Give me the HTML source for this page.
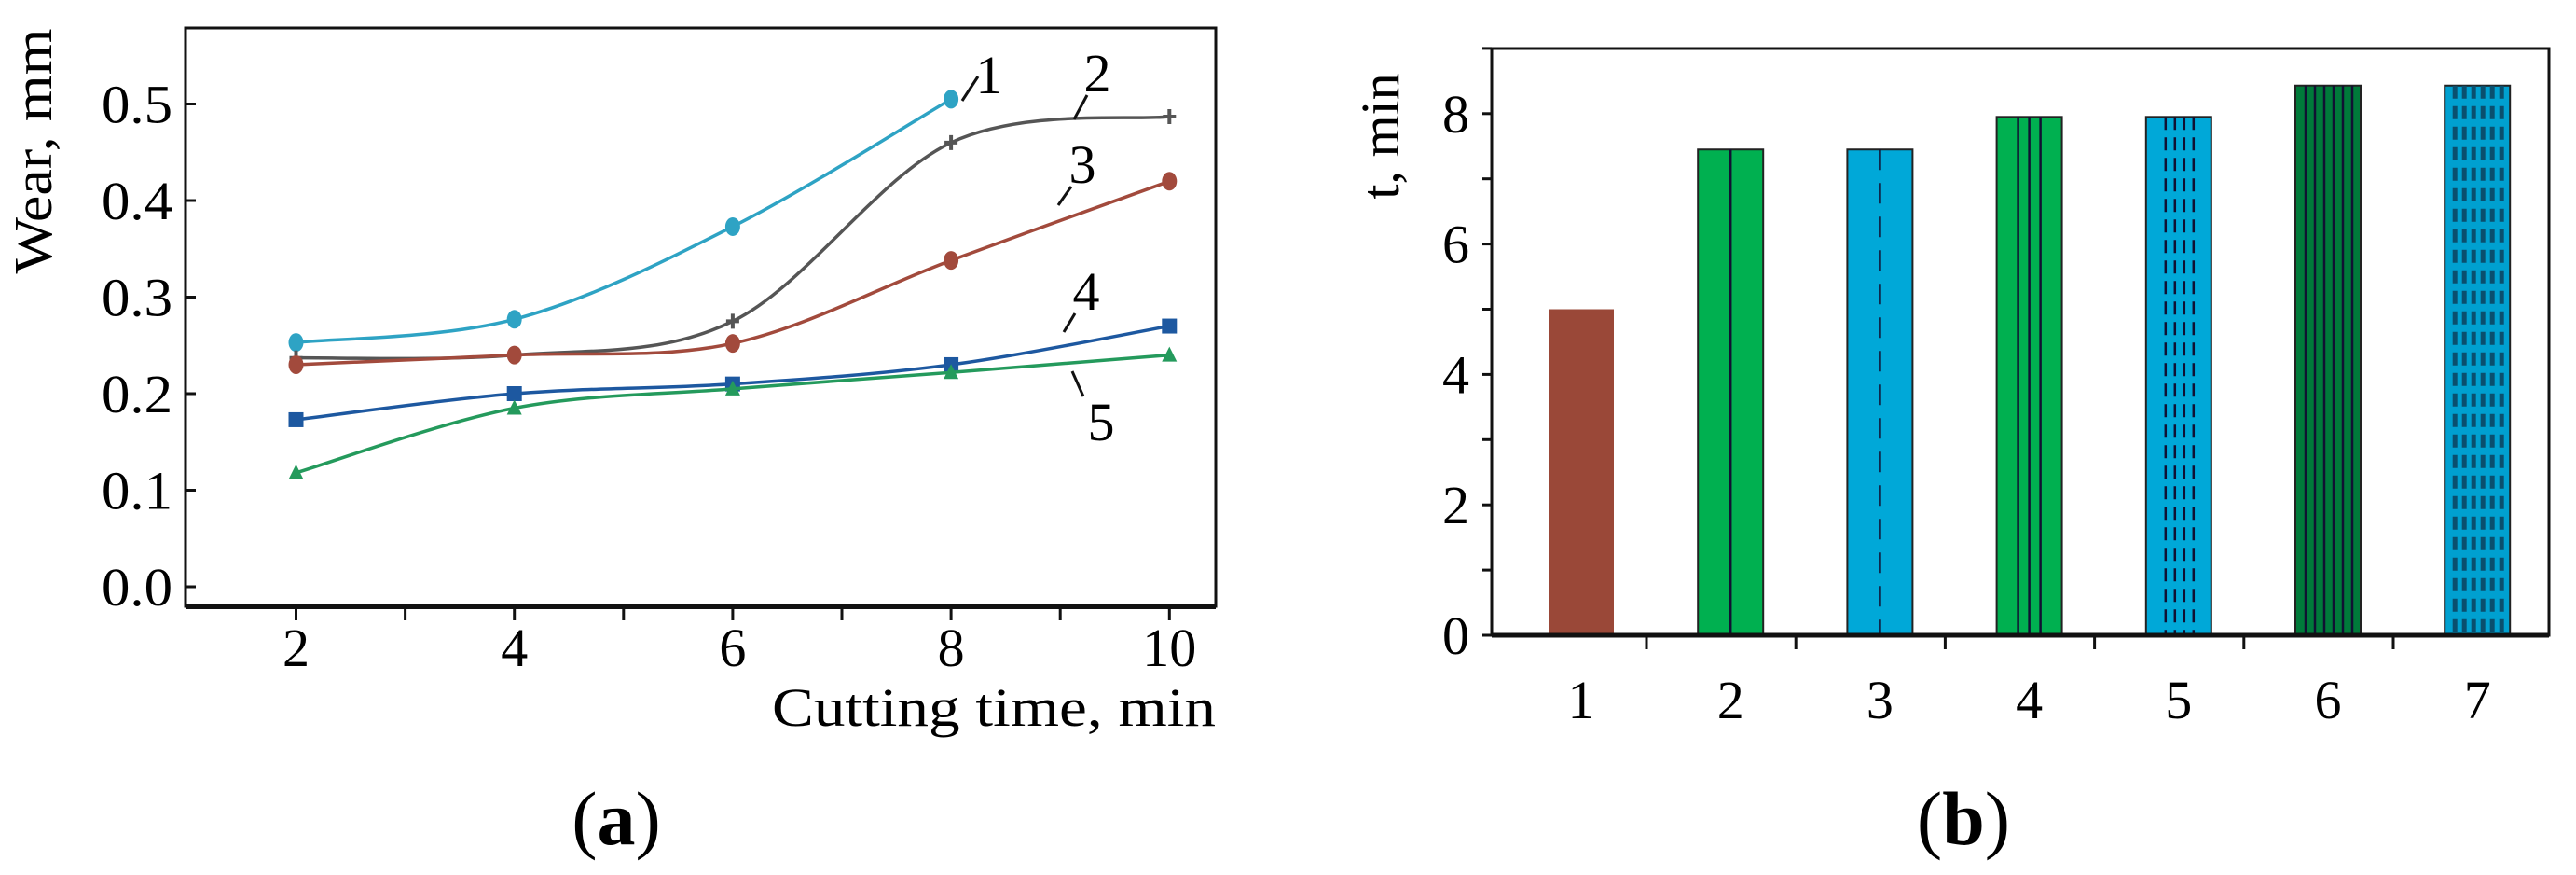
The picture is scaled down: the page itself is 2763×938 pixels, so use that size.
<!DOCTYPE html>
<html><head><meta charset="utf-8"><style>
html,body{margin:0;padding:0;background:#fff;}
svg{display:block;font-family:"Liberation Serif",serif;}
</style></head><body>
<svg id="fig" width="2763" height="938" viewBox="0 0 2763 938" xmlns="http://www.w3.org/2000/svg">
<g id="chartA"></g>
<g id="chartB"></g>
<text x="661" y="905" font-size="82" text-anchor="middle">(<tspan font-weight="bold">a</tspan>)</text>
<text x="2106" y="905" font-size="82" text-anchor="middle">(<tspan font-weight="bold">b</tspan>)</text>
</svg>
<script>
const NS='http://www.w3.org/2000/svg';
// ---- Chart A data
const timesA=[2,4,6,8,10];
const wear1=[0.253,0.277,0.373,0.505];
const wear2=[0.237,0.240,0.275,0.460,0.487];
const wear3=[0.230,0.240,0.252,0.338,0.420];
const wear4=[0.173,0.200,0.210,0.230,0.270];
const wear5=[0.118,0.185,0.205,0.222,0.240];
const yTicksA=['0.0','0.1','0.2','0.3','0.4','0.5'];
const xTicksA=['2','4','6','8','10'];
// ---- Chart B data
const catsB=['1','2','3','4','5','6','7'];
const lifeB=[5,7.45,7.45,7.95,7.95,8.43,8.43];
const yTicksB=['0','2','4','6','8'];

function mk(tag,attrs,parent){const e=document.createElementNS(NS,tag);for(const k in attrs)e.setAttribute(k,attrs[k]);parent.appendChild(e);return e;}

// ===== Chart A
const A=document.getElementById('chartA');
const ax=t=>317.5+(t-2)*117.1;
const ay=v=>629-v*1035;
let r=mk('rect',{x:199,y:30,width:1105,height:620,fill:'none',stroke:'#111','stroke-width':3},A);


let bl=mk('line',{x1:199,y1:650,x2:1304,y2:650,stroke:'#111','stroke-width':6},A);


yTicksA.forEach(s=>{const v=parseFloat(s);const y=ay(v);
 let l=mk('line',{x1:199,y1:y,x2:210,y2:y,stroke:'#111','stroke-width':3},A);
 
 
 let t=mk('text',{x:185,y:y+20,'font-size':58,'text-anchor':'end',textLength:76,lengthAdjust:'spacingAndGlyphs'},A);t.textContent=s;
 
 
});
for(let t=2;t<=10;t++){const x=ax(t);
 let l=mk('line',{x1:x,y1:650,x2:x,y2:665,stroke:'#111','stroke-width':3},A);
 
 }
xTicksA.forEach(s=>{const x=ax(parseFloat(s));
 let t=mk('text',{x:x,y:714,'font-size':58,'text-anchor':'middle'},A);t.textContent=s;
 
 });
let xt=mk('text',{x:1304,y:778,'font-size':58,'text-anchor':'end',textLength:476,lengthAdjust:'spacingAndGlyphs'},A);xt.textContent='Cutting time, min';


let yt=mk('text',{x:0,y:0,'font-size':58,'text-anchor':'middle',textLength:263,lengthAdjust:'spacingAndGlyphs',transform:'translate(55,162) rotate(-90)'},A);yt.textContent='Wear, mm';



function smooth(pts){let d='M'+pts[0][0]+','+pts[0][1];
 for(let i=0;i<pts.length-1;i++){const p0=pts[Math.max(0,i-1)],p1=pts[i],p2=pts[i+1],p3=pts[Math.min(pts.length-1,i+2)];
  const c1=[p1[0]+(p2[0]-p0[0])/6,p1[1]+(p2[1]-p0[1])/6],c2=[p2[0]-(p3[0]-p1[0])/6,p2[1]-(p3[1]-p1[1])/6];
  d+=' C'+c1+' '+c2+' '+p2;}return d;}
const seriesA=[[wear1,'#2ea3c4','circle','series-1'],[wear2,'#555','star','series-2'],[wear3,'#a24a3c','circle','series-3'],[wear4,'#1d58a0','square','series-4'],[wear5,'#249a5c','tri','series-5']];
seriesA.forEach(([vals,col,mkr,name])=>{
 const pts=vals.map((v,i)=>[ax(timesA[i]),ay(v)]);
 let p=mk('path',{d:smooth(pts),fill:'none',stroke:col,'stroke-width':3.5},A);
 
 
 pts.forEach(([x,y])=>{let m;
  if(mkr==='square')m=mk('rect',{x:x-8,y:y-8,width:16,height:16,fill:col},A);
  else if(mkr==='tri')m=mk('path',{d:`M${x},${y-9} L${x+8},${y+7} L${x-8},${y+7}Z`,fill:col},A);
  else if(mkr==='star')m=mk('path',{d:`M${x-7},${y} L${x+7},${y} M${x},${y-8} L${x},${y+8}`,stroke:col,'stroke-width':4},A);
  else m=mk('ellipse',{cx:x,cy:y,rx:8,ry:10,fill:col},A);
  
  });
});
const callouts=[['1',1061,100,1032,108,1049,82],['2',1177,98,1152,128,1166,102],['3',1161,196,1135,220,1149,200],['4',1165,332,1141,356,1153,336],['5',1181,472,1150,398,1162,425]];
callouts.forEach(([s,tx,ty,x1,y1,x2,y2])=>{
 let l=mk('line',{x1:x1,y1:y1,x2:x2,y2:y2,stroke:'#111','stroke-width':3},A);
 
 
 let t=mk('text',{x:tx,y:ty,'font-size':58,'text-anchor':'middle'},A);t.textContent=s;
 
 });

// ===== Chart B
const B=document.getElementById('chartB');
const bx=i=>1696+i*160.2;
const by=v=>681-v*69.9;
const defs=mk('defs',{},B);
function pat(id,w,h,draw){const p=mk('pattern',{id:id,patternUnits:'userSpaceOnUse',width:w,height:h},defs);draw(p);}
let fr=mk('rect',{x:1600,y:52,width:1134,height:629,fill:'none',stroke:'#111','stroke-width':3},B);


const fills=['#9a4838','#00b050','#00a8d8','#00b050','#00a8d8','#007a3a','#00a0d0'];
lifeB.forEach((v,i)=>{const cx=bx(i),w=70,x=cx-w/2,y=by(v),h=by(0)-y;
 let b=mk('rect',{x:x,y:y,width:w,height:h,fill:fills[i],stroke:i===0?'none':'#222','stroke-width':2},B);
 
 
 const lines=[];
 if(i===1)lines.push([cx,'']);
 if(i===2)lines.push([cx,'22 14']);
 if(i===3)[-12,0,12].forEach(o=>lines.push([cx+o,'']));
 if(i===4)[-14,-4,6,16].forEach(o=>lines.push([cx+o,'14 8']));
 if(i===5)[-24,-14,-4,6,16,26].forEach(o=>lines.push([cx+o,'']));
 if(i===6)[-24,-14,-4,6,16,26].forEach(o=>lines.push([cx+o,'14 8']));
 lines.forEach(([lx,da])=>{let l=mk('line',{x1:lx,y1:y,x2:lx,y2:y+h,stroke:i===6?'#0a4f6e':'#113','stroke-width':i===6?5:2.5,'stroke-dasharray':da},B);
  
  });
 let t=mk('text',{x:cx,y:770,'font-size':58,'text-anchor':'middle'},B);t.textContent=catsB[i];
 
 
 if(i<catsB.length-1){let tk=mk('line',{x1:cx+70,y1:681,x2:cx+70,y2:696,stroke:'#111','stroke-width':3},B);
  
  }
});
let bxl=mk('line',{x1:1600,y1:681,x2:2734,y2:681,stroke:'#111','stroke-width':5},B);


for(let v=0;v<=9;v++){const y=by(v);
 let l=mk('line',{x1:1590,y1:y,x2:1600,y2:y,stroke:'#111','stroke-width':3},B);
 
 }
yTicksB.forEach(s=>{const y=by(parseFloat(s));
 let t=mk('text',{x:1576,y:y+20,'font-size':58,'text-anchor':'end'},B);t.textContent=s;
 
 });
let ybt=mk('text',{x:0,y:0,'font-size':58,'text-anchor':'middle',transform:'translate(1500,146) rotate(-90)'},B);ybt.textContent='t, min';


</script>
</body></html>
